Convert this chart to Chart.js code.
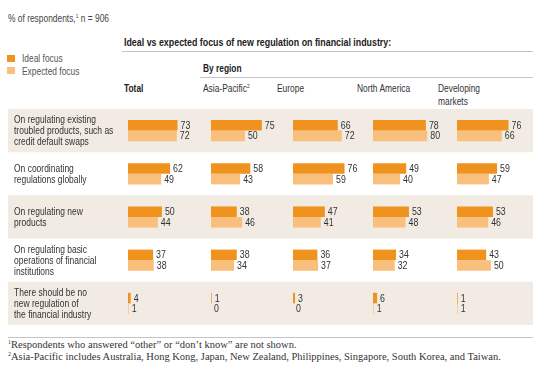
<!DOCTYPE html>
<html>
<head>
<meta charset="utf-8">
<script src="https://cdn.jsdelivr.net/npm/chart.js@4.4.1/dist/chart.umd.min.js"></script>
<style>
  html, body { margin: 0; padding: 0; background: #fff; }
  body { width: 545px; height: 372px; position: relative; overflow: hidden;
         font-family: 'Liberation Sans', Arial, sans-serif; color: #333; }
  .t { position: absolute; white-space: nowrap; font-size: 10.5px; line-height: 12px;
       transform: scaleX(0.8); transform-origin: 0 0; }
  .b { font-weight: bold; color: #222; font-size: 11px; transform: scaleX(0.76); }
  .rl { position: absolute; left: 14px; white-space: nowrap; font-size: 11px; line-height: 11px;
        transform: scaleX(0.77); transform-origin: 0 50%; color: #333; }
  .rule { position: absolute; height: 0; border-top: 1px solid #c4c4c4; }
  .sw { position: absolute; width: 8px; height: 7px; }
  canvas { position: absolute; }
  .fn { position: absolute; white-space: nowrap; font-family: 'Liberation Serif', 'DejaVu Serif', serif; font-size: 10.5px; color: #333; }
  sup { font-size: 6px; vertical-align: 4px; line-height: 0; }
</style>
</head>
<body>
<div class="t" style="left:8px; top:12px; color:#444;">% of respondents,<sup>1</sup> n = 906</div>

<div class="sw" style="left:7px; top:55px; background:#f0921e;"></div>
<div class="t" style="left:22px; top:52px; color:#555;">Ideal focus</div>
<div class="sw" style="left:7px; top:67px; background:#f9bf7c;"></div>
<div class="t" style="left:22px; top:65px; color:#555;">Expected focus</div>

<div class="t b" style="left:124px; top:36px; font-size:11.5px; transform:scaleX(0.77);">Ideal vs expected focus of new regulation on financial industry:</div>
<div class="rule" style="left:122px; top:51px; width:411px;"></div>
<div class="t b" style="left:203px; top:62px;">By region</div>
<div class="rule" style="left:200px; top:77px; width:333px;"></div>

<div class="t b" style="left:124px; top:82px;">Total</div>
<div class="t" style="left:203px; top:82px;">Asia-Pacific<sup>2</sup></div>
<div class="t" style="left:277px; top:82px;">Europe</div>
<div class="t" style="left:357px; top:82px;">North America</div>
<div class="t" style="left:438px; top:82px; line-height:13px;">Developing<br>markets</div>

<canvas id="c0" style="left:8px; top:109px;" width="527" height="216"></canvas>
<canvas id="c1" style="left:211px; top:109px;" width="80" height="216"></canvas>
<canvas id="c2" style="left:293px; top:109px;" width="80" height="216"></canvas>
<canvas id="c3" style="left:373px; top:109px;" width="80" height="216"></canvas>
<canvas id="c4" style="left:457px; top:109px;" width="80" height="216"></canvas>

<div class="rule" style="left:8px; top:337px; width:525px;"></div>
<div class="fn" style="left:8px; top:339px;"><sup>1</sup>Respondents who answered “other” or “don’t know” are not shown.</div>
<div class="fn" style="left:8px; top:351px;"><sup>2</sup>Asia-Pacific includes Australia, Hong Kong, Japan, New Zealand, Philippines, Singapore, South Korea, and Taiwan.</div>

<script>
const rowLabels = [
  ["On regulating existing", "troubled products, such as", "credit default swaps"],
  ["On coordinating", "regulations globally"],
  ["On regulating new", "products"],
  ["On regulating basic", "operations of financial", "institutions"],
  ["There should be no", "new regulation of", "the financial industry"]
];
const seriesNames = ["Ideal focus", "Expected focus"];

const totalIdeal = [73, 62, 50, 37, 4];
const totalExpected = [72, 49, 44, 38, 1];
const asiaIdeal = [75, 58, 38, 38, 1];
const asiaExpected = [50, 43, 46, 34, 0];
const europeIdeal = [66, 76, 47, 36, 3];
const europeExpected = [72, 59, 41, 37, 0];
const naIdeal = [78, 49, 53, 34, 6];
const naExpected = [80, 40, 48, 32, 1];
const devIdeal = [76, 59, 53, 43, 1];
const devExpected = [66, 47, 46, 50, 1];

const columns = [
  [totalIdeal, totalExpected],
  [asiaIdeal, asiaExpected],
  [europeIdeal, europeExpected],
  [naIdeal, naExpected],
  [devIdeal, devExpected]
];

const barColors = ["#f0921e", "#f9bf7c"];

// value next to the end of every bar (condensed look by squeezing x)
const valueLabels = {
  id: "valueLabels",
  afterDatasetsDraw(chart) {
    const ctx = chart.ctx;
    chart.data.datasets.forEach((ds, i) => {
      chart.getDatasetMeta(i).data.forEach((bar, j) => {
        ctx.save();
        ctx.font = "11px 'Liberation Sans', Arial, sans-serif";
        ctx.fillStyle = "#333";
        ctx.textBaseline = "middle";
        ctx.textAlign = "left";
        ctx.translate(bar.x + 3, bar.y + 0.5);
        ctx.scale(0.8, 1);
        ctx.fillText(ds.data[j], 0, 0);
        ctx.restore();
      });
    });
  }
};

// beige bands on every other row, drawn by the first (wide) chart
const rowBands = {
  id: "rowBands",
  beforeDraw(chart) {
    const y = chart.scales.y;
    const half = (y.getPixelForValue(1) - y.getPixelForValue(0)) / 2;
    const ctx = chart.ctx;
    ctx.save();
    ctx.fillStyle = "#f1ebe4";
    for (let i = 0; i < rowLabels.length; i += 2) {
      const yc = y.getPixelForValue(i);
      ctx.fillRect(0, yc - half, 525, half * 2);
    }
    ctx.restore();
  }
};

const charts = columns.map((col, k) => {
  const first = k === 0;
  return new Chart(document.getElementById("c" + k), {
    type: "bar",
    data: {
      labels: rowLabels.map(l => l.join(" ")),
      datasets: col.map((vals, i) => ({
        label: seriesNames[i],
        data: vals,
        backgroundColor: barColors[i],
        borderWidth: 0,
        categoryPercentage: 0.49,
        barPercentage: 1.0
      }))
    },
    options: {
      indexAxis: "y",
      responsive: false,
      animation: false,
      layout: { padding: first ? { left: 120, right: 327, top: 0, bottom: 0 } : 0 },
      plugins: { legend: { display: false }, tooltip: { enabled: false } },
      scales: {
        x: { display: false, min: 0, max: 118 },
        y: { display: false }
      }
    },
    plugins: first ? [rowBands, valueLabels] : [valueLabels]
  });
});

// row labels placed at the category centres of the first chart
const yScale = charts[0].scales.y;
const top0 = 109;
rowLabels.forEach((lines, i) => {
  const d = document.createElement("div");
  d.className = "rl";
  d.innerHTML = lines.join("<br>");
  document.body.appendChild(d);
  const h = d.offsetHeight;
  d.style.top = (top0 + yScale.getPixelForValue(i) - h / 2) + "px";
});
</script>
</body>
</html>
